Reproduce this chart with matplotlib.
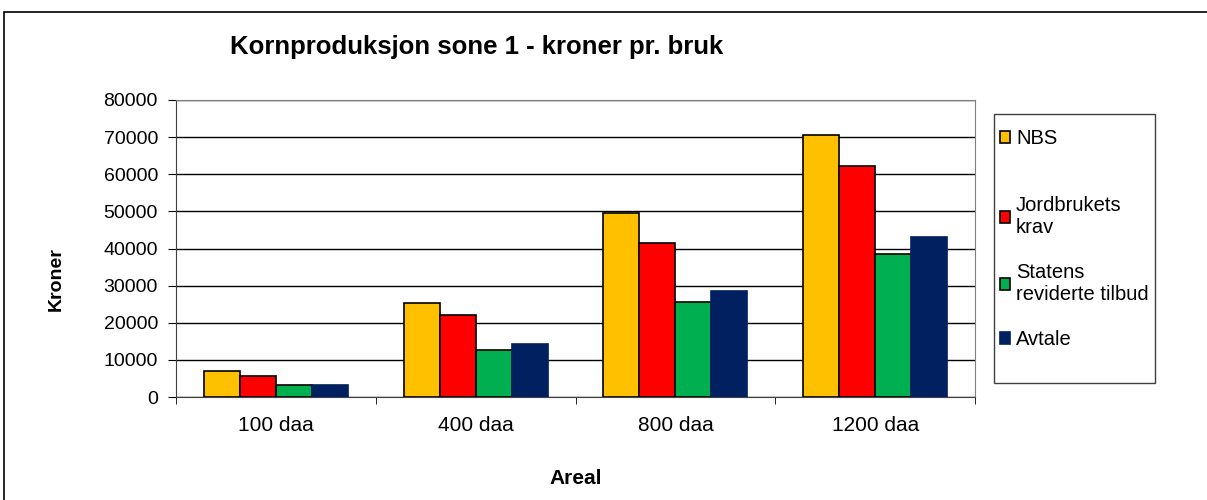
import numpy as np
import matplotlib.pyplot as plt
from matplotlib.patches import Rectangle

plt.rcParams['font.family'] = ['Liberation Sans', 'DejaVu Sans']

# Data
categories = ['100 daa', '400 daa', '800 daa', '1200 daa']
series = ['NBS', 'Jordbrukets\nkrav', 'Statens\nreviderte tilbud', 'Avtale']
nbs = [7000, 25300, 49600, 70700]
krav = [5700, 22100, 41400, 62200]
tilbud = [3100, 12600, 25500, 38400]
avtale = [3200, 14200, 28500, 43100]
values = [nbs, krav, tilbud, avtale]
colors = ['#FFC000', '#FF0000', '#00B050', '#002060']
edges = ['black', 'black', 'black', '#002060']

W, H = 1207, 500
fig = plt.figure(figsize=(W / 100, H / 100), dpi=100)
# outer chart border
fig.patches.append(Rectangle((4 / W, -0.1), 1.2, 1.1 - 12 / H, transform=fig.transFigure,
                             fill=False, edgecolor='black', lw=1.2))

ax = fig.add_axes([176 / W, 1 - 397 / H, (975 - 176) / W, (397 - 100) / H])

x = np.arange(len(categories))
w = 0.18
bars = []
for i, (vals, c, e) in enumerate(zip(values, colors, edges)):
    b = ax.bar(x + (i - 1.5) * w, vals, width=w, color=c, edgecolor=e, linewidth=1.2,
               label=series[i], zorder=3)
    bars.append(b)

ax.set_xlim(-0.5, len(categories) - 0.5)
ax.set_ylim(0, 80000)
ax.set_yticks(np.arange(0, 80001, 10000))
ax.set_xticks(x)
ax.set_xticklabels(categories)
ax.set_xticks(np.arange(-0.5, len(categories), 1), minor=True)
ax.tick_params(axis='x', which='major', length=0, labelsize=15, pad=13.5)
ax.tick_params(axis='x', which='minor', length=5, direction='out', color='black')
ax.tick_params(axis='y', length=6, direction='out', labelsize=14, pad=7)
ax.yaxis.grid(True, color='black', lw=1, zorder=0)

for s in ['top', 'right']:
    ax.spines[s].set_color('#808080')
ax.spines['left'].set_color('#404040')
ax.spines['bottom'].set_color('#404040')

fig.text(56 / W, 1 - 279 / H, 'Kroner', fontsize=14, fontweight='bold', rotation=90,
         ha='center', va='center')
fig.text(576 / W, 1 - 478 / H, 'Areal', fontsize=15, fontweight='bold', ha='center', va='center')
fig.text(230 / W, 1 - 47 / H, 'Kornproduksjon sone 1 - kroner pr. bruk', fontsize=18.5,
         fontweight='bold', ha='left', va='center')

# legend box
fig.patches.append(Rectangle((994 / W, 1 - 383 / H), (1155 - 994) / W, (383 - 114) / H,
                             transform=fig.transFigure, fill=False, edgecolor='#404040', lw=1))
leg_kw = dict(bbox_transform=fig.transFigure, fontsize=14.5, frameon=False, loc='upper left',
              handlelength=0.5, handleheight=0.5, handletextpad=0.3, labelspacing=1.3,
              borderaxespad=0, borderpad=0)
leg1 = ax.legend(bars[:1], series[:1], bbox_to_anchor=(1000 / W, 1 - 129 / H), **leg_kw)
ax.add_artist(leg1)
ax.legend(bars[1:], series[1:], bbox_to_anchor=(1000 / W, 1 - 196 / H), **leg_kw)

fig.savefig('out.png', dpi=100)
